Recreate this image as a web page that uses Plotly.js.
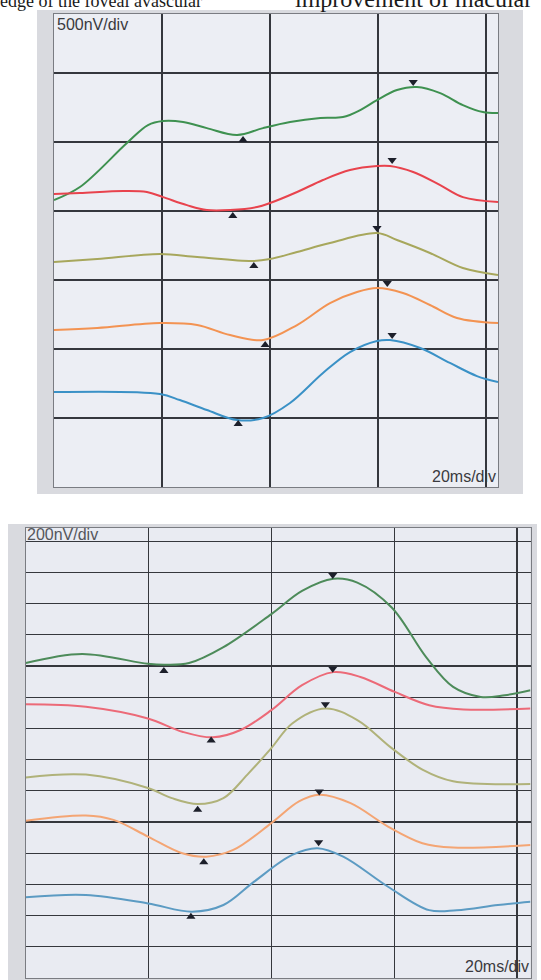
<!DOCTYPE html>
<html>
<head>
<meta charset="utf-8">
<script src="https://cdn.plot.ly/plotly-3.0.1.min.js"></script>
<style>html,body{margin:0;padding:0;background:#fff;}#chart{width:541px;height:980px;}</style>
</head>
<body>
<div id="chart"></div>
<script>
// ---------- TOP PANEL (500 nV/div, 20 ms/div) ----------
const topGreenT = [0, 4.8, 13.5, 17.4, 20.2, 23.9, 28.3, 33.9, 38.7, 43.7, 49.3, 53.5, 56.7, 59.8, 63.5, 67.2, 71.5, 75.7, 79.4, 82.2];
const topGreenV = [2080, 2174, 2493, 2623, 2652, 2645, 2601, 2551, 2601, 2645, 2674, 2681, 2732, 2804, 2877, 2899, 2855, 2768, 2717, 2710];
const topRedT = [0, 4.8, 12.8, 17.2, 20.2, 24.6, 28.3, 32.6, 37.6, 40.0, 45.0, 49.8, 54.8, 59.8, 62.2, 66.5, 71.5, 75.7, 82.2];
const topRedV = [2123, 2130, 2145, 2138, 2101, 2043, 2007, 2007, 2029, 2058, 2138, 2225, 2297, 2326, 2326, 2283, 2188, 2101, 2065];
const topYellowT = [0, 8, 19.6, 26.5, 36.9, 40, 45, 51.1, 59.8, 63.5, 69.6, 75.7, 82.2];
const topYellowV = [1630, 1652, 1688, 1667, 1638, 1652, 1703, 1768, 1840, 1790, 1696, 1587, 1536];
const topOrangeT = [0, 8, 19.6, 26.5, 32.6, 38.7, 45, 51.1, 56.1, 59.8, 64.6, 69.6, 74.6, 82.2];
const topOrangeV = [1138, 1152, 1188, 1174, 1101, 1065, 1174, 1333, 1413, 1442, 1406, 1319, 1225, 1188];
const topBlueT = [0, 19.6, 23.3, 28.3, 33.9, 38.7, 43.7, 49.8, 54.8, 59.8, 62.2, 67.8, 73.3, 78.3, 82.2];
const topBlueV = [688, 674, 630, 558, 485, 500, 609, 826, 978, 1058, 1065, 1007, 899, 804, 761];
// markers (green, red, yellow, orange, blue)
const topTroughT = [35.0, 33.1, 37.0, 39.1, 34.1];
const topTroughV = [2514, 1964, 1601, 1029, 456];
const topPeakT = [66.5, 62.6, 59.8, 61.7, 62.6];
const topPeakV = [2935, 2370, 1877, 1478, 1101];

// ---------- BOTTOM PANEL (200 nV/div, 20 ms/div) ----------
const botGreenT = [0, 9.2, 19.9, 22.7, 26.6, 32.2, 40.0, 45.0, 50.1, 54.0, 59.6, 65.2, 69.6, 74.1, 78.0, 82.2];
const botGreenV = [2019, 2078, 2014, 2008, 2019, 2121, 2333, 2482, 2560, 2535, 2375, 2057, 1866, 1802, 1813, 1845];
const botRedT = [0, 9.8, 19.9, 25.5, 30.5, 35.0, 40.0, 45.0, 50.1, 54.5, 60.1, 65.7, 71.3, 82.2];
const botRedV = [1755, 1739, 1664, 1579, 1543, 1590, 1717, 1877, 1961, 1930, 1834, 1749, 1722, 1728];
const botYellowT = [0, 9.8, 19.9, 23.8, 28.0, 32.2, 36.1, 40.0, 43.4, 48.8, 54.0, 59.6, 64.6, 69.6, 82.2];
const botYellowV = [1286, 1304, 1218, 1153, 1115, 1153, 1304, 1474, 1632, 1728, 1654, 1474, 1336, 1261, 1244];
const botOrangeT = [0, 9.8, 14.3, 19.9, 25.5, 29.4, 33.8, 40.0, 44.5, 47.8, 52.9, 59.0, 64.6, 69.6, 82.2];
const botOrangeV = [1008, 1042, 1014, 907, 800, 778, 821, 993, 1132, 1175, 1121, 971, 864, 836, 853];
const botBlueT = [0, 9.8, 19.9, 27.1, 32.2, 37.2, 43.4, 47.5, 51.7, 59.0, 65.7, 70.2, 76.9, 82.2];
const botBlueV = [517, 532, 478, 425, 468, 618, 789, 832, 778, 585, 435, 435, 468, 489];
const botTroughT = [22.5, 30.2, 28.0, 29.0, 26.9];
const botTroughV = [1968, 1522, 1078, 742, 393];
const botPeakT = [50.0, 50.0, 48.8, 47.8, 47.7];
const botPeakV = [2583, 1983, 1755, 1196, 871];

const topLabels = {amp: '500nV/div', time: '20ms/div'};
const botLabels = {amp: '200nV/div', time: '20ms/div'};
const headerLeft = 'edge of the foveal avascular';
const headerRight = 'improvement of macular';

const topColors = ['#3e9150', '#e8434d', '#a7a75c', '#f39352', '#3a91c6'];
const botColors = ['#4d8b5a', '#ec6a78', '#b0b27a', '#f4a574', '#5c9bc3'];

const W = 541, H = 980;
const px = v => v / W;
const py = v => 1 - v / H;

function line(t, v, color, xa, ya) {
  return {x: t, y: v, xaxis: xa, yaxis: ya, type: 'scatter', mode: 'lines',
    line: {color: color, width: 2, shape: 'spline', smoothing: 1}, hoverinfo: 'skip', showlegend: false};
}
function marks(t, v, sym, xa, ya) {
  return {x: t, y: v, xaxis: xa, yaxis: ya, type: 'scatter', mode: 'markers',
    marker: {symbol: sym, size: 8, color: '#1c1f2a'}, hoverinfo: 'skip', showlegend: false};
}

const data = [
  line(topGreenT, topGreenV, topColors[0], 'x', 'y'),
  line(topRedT, topRedV, topColors[1], 'x', 'y'),
  line(topYellowT, topYellowV, topColors[2], 'x', 'y'),
  line(topOrangeT, topOrangeV, topColors[3], 'x', 'y'),
  line(topBlueT, topBlueV, topColors[4], 'x', 'y'),
  marks(topTroughT, topTroughV, 'triangle-up', 'x', 'y'),
  marks(topPeakT, topPeakV, 'triangle-down', 'x', 'y'),
  line(botGreenT, botGreenV, botColors[0], 'x2', 'y2'),
  line(botRedT, botRedV, botColors[1], 'x2', 'y2'),
  line(botYellowT, botYellowV, botColors[2], 'x2', 'y2'),
  line(botOrangeT, botOrangeV, botColors[3], 'x2', 'y2'),
  line(botBlueT, botBlueV, botColors[4], 'x2', 'y2'),
  marks(botTroughT, botTroughV, 'triangle-up', 'x2', 'y2'),
  marks(botPeakT, botPeakV, 'triangle-down', 'x2', 'y2')
];

const gridCommon = {showticklabels: false, ticks: '', zeroline: false, showgrid: true,
  gridcolor: '#35373d', gridwidth: 1.3, showline: true, mirror: true, linecolor: '#7a7c82', linewidth: 1, fixedrange: true};

const layout = {
  width: W, height: H,
  margin: {l: 0, r: 0, t: 0, b: 0},
  paper_bgcolor: '#ffffff',
  plot_bgcolor: '#eceef4',
  showlegend: false,
  xaxis: Object.assign({}, gridCommon, {domain: [px(54), px(498)], range: [0, 82.2], tick0: 0, dtick: 20, anchor: 'y'}),
  yaxis: Object.assign({}, gridCommon, {domain: [py(487), py(14)], range: [0, 3428], tick0: 0, dtick: 500, anchor: 'x'}),
  xaxis2: Object.assign({}, gridCommon, {domain: [px(25.7), px(530.5)], range: [0, 82.2], tick0: 0, dtick: 20, anchor: 'y2'}),
  yaxis2: Object.assign({}, gridCommon, {domain: [py(978), py(528)], range: [0, 2885], tick0: 0, dtick: 200, anchor: 'x2'}),
  shapes: [
    // scanned paper (grey surround)
    {type: 'rect', xref: 'paper', yref: 'paper', layer: 'below',
     x0: px(37), x1: px(523), y0: py(494), y1: py(10),
     fillcolor: '#d9dadf', line: {width: 0}},
    {type: 'rect', xref: 'paper', yref: 'paper', layer: 'below',
     x0: px(8), x1: px(537), y0: py(980), y1: py(524),
     fillcolor: '#d9dadf', line: {width: 0}},
    // light interior of each recording box
    {type: 'rect', xref: 'x domain', yref: 'y domain', layer: 'below',
     x0: 0, x1: 1, y0: 0, y1: 1, fillcolor: '#eceef4', line: {width: 0}},
    {type: 'rect', xref: 'x2 domain', yref: 'y2 domain', layer: 'below',
     x0: 0, x1: 1, y0: 0, y1: 1, fillcolor: '#e9ebf2', line: {width: 0}}
  ],
  annotations: [
    {text: topLabels.amp, xref: 'paper', yref: 'paper', x: px(55), y: py(25), xanchor: 'left', yanchor: 'middle',
     showarrow: false, font: {family: 'Liberation Sans, Arial, sans-serif', size: 16, color: '#3a3a3e'}},
    {text: topLabels.time, xref: 'paper', yref: 'paper', x: px(498), y: py(476), xanchor: 'right', yanchor: 'middle',
     showarrow: false, font: {family: 'Liberation Sans, Arial, sans-serif', size: 16, color: '#3a3a3e'}},
    {text: botLabels.amp, xref: 'paper', yref: 'paper', x: px(25), y: py(534), xanchor: 'left', yanchor: 'middle',
     showarrow: false, font: {family: 'Liberation Sans, Arial, sans-serif', size: 16, color: '#55565c'}},
    {text: botLabels.time, xref: 'paper', yref: 'paper', x: px(531), y: py(966), xanchor: 'right', yanchor: 'middle',
     showarrow: false, font: {family: 'Liberation Sans, Arial, sans-serif', size: 16, color: '#3a3a3e'}},
    {text: headerLeft, xref: 'paper', yref: 'paper', x: px(204), y: 1, xanchor: 'right', yanchor: 'top', yshift: 11,
     showarrow: false, font: {family: 'Liberation Serif, Times New Roman, serif', size: 18, color: '#1a1a1a'}},
    {text: headerRight, xref: 'paper', yref: 'paper', x: px(293), y: 1, xanchor: 'left', yanchor: 'top', yshift: 16,
     showarrow: false, font: {family: 'Liberation Serif, Times New Roman, serif', size: 24, color: '#1a1a1a'}}
  ]
};

Plotly.newPlot('chart', data, layout, {staticPlot: true, displayModeBar: false});
</script>
</body>
</html>
